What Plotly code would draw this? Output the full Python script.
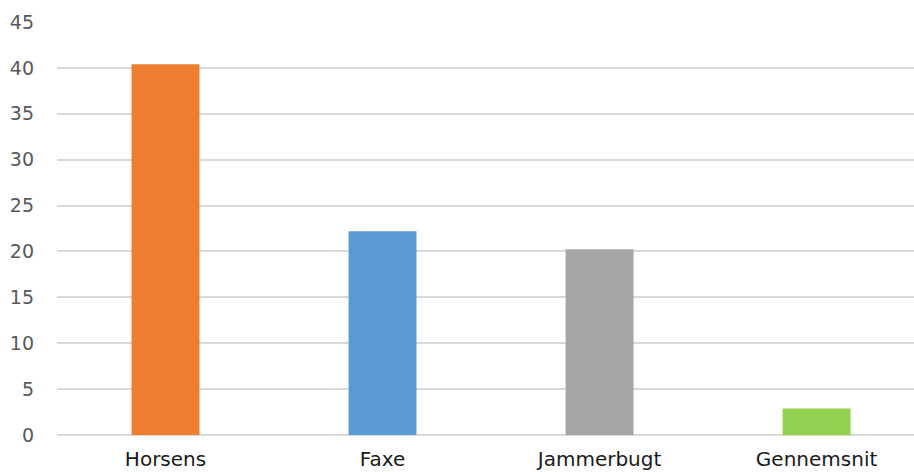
import plotly.graph_objects as go

# Municipalities and the national average
categories = ["Horsens", "Faxe", "Jammerbugt", "Gennemsnit"]
values = [40.4, 22.2, 20.25, 2.9]
bar_colors = ["#ED7D31", "#5B9BD5", "#A5A5A5", "#92D050"]
y_ticks = [0, 5, 10, 15, 20, 25, 30, 35, 40, 45]

fig = go.Figure(
    go.Bar(
        x=categories,
        y=values,
        marker=dict(color=bar_colors, line=dict(width=0)),
        hoverinfo="x+y",
    )
)

fig.update_layout(
    width=914,
    height=472,
    margin=dict(l=57, r=0, t=22, b=37),
    paper_bgcolor="white",
    plot_bgcolor="white",
    bargap=0.687,
    showlegend=False,
    font=dict(family="DejaVu Sans, Verdana, sans-serif"),
)

# The last category slot runs slightly past the right edge of the page
fig.update_xaxes(
    range=[-0.5, 3.449],
    showgrid=False,
    zeroline=False,
    showline=False,
    ticks="",
    tickfont=dict(size=20, color="#1a1a1a"),
    ticklabelstandoff=10,
    automargin=False,
)

fig.update_yaxes(
    range=[0, 45],
    tickvals=y_ticks,
    showgrid=True,
    gridcolor="#d9d9d9",
    gridwidth=1.5,
    zeroline=True,
    zerolinecolor="#d9d9d9",
    zerolinewidth=1.5,
    showline=False,
    ticks="",
    tickfont=dict(size=19, color="#595959"),
    ticklabelstandoff=22,
    automargin=False,
)

fig.write_html("out.html")
